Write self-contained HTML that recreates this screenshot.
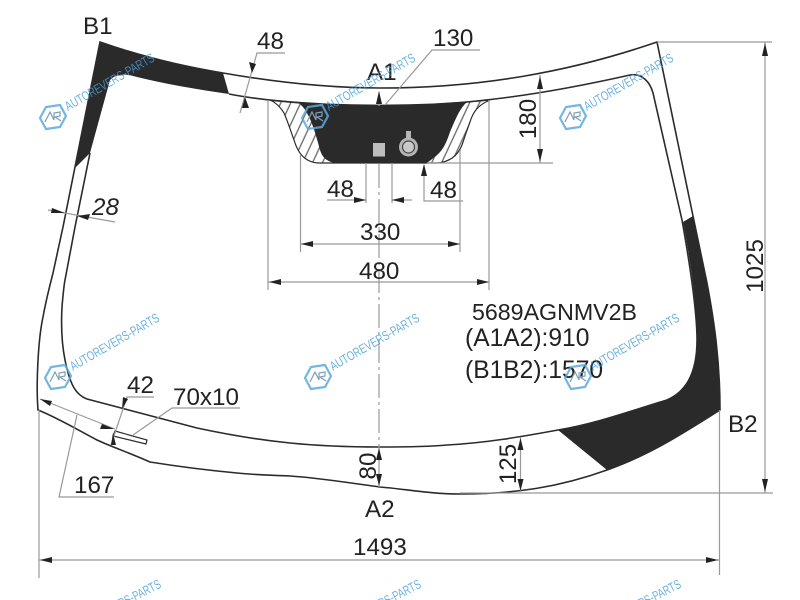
<!DOCTYPE html>
<html><head><meta charset="utf-8"><style>
html,body{margin:0;padding:0;background:#fff;width:800px;height:600px;overflow:hidden}
svg{display:block}
text{font-family:"Liberation Sans",sans-serif;fill:#222}
.t{font-size:24.200px}
.d{stroke:#999;stroke-width:1.2;fill:none}
.g{stroke:#2b2b2b;stroke-width:1.6;fill:none}
.w{font-size:13px;fill:#4a9fd8;opacity:.8}
</style></head><body>
<svg width="800" height="600" viewBox="0 0 800 600" xmlns="http://www.w3.org/2000/svg" style="overflow:hidden;filter:blur(.3px)">
<defs>
<pattern id="h" width="9" height="9" patternUnits="userSpaceOnUse" patternTransform="rotate(25)">
<rect width="9" height="9" fill="#fff"/><line x1="1" y1="0" x2="1" y2="9" stroke="#666" stroke-width="1.300"/>
</pattern>
<g id="logo">
<polygon points="-13,1 -7,-10 7,-12 13,-1 7,10 -7,12" fill="none" stroke="#5aa9dc" stroke-width="2.200" opacity=".85"/>
<path d="M-8,5 L-3,-5 L1,3 M1,3 L1,-4 L7,-5 L7,-1 L2,0 L8,4" fill="none" stroke="#7f9fb5" stroke-width="1.200"/>
</g>
</defs>

<!-- black zones -->
<path d="M100,42 C140,56 180,66 223,73 L229,94 C195,89 165,84 137,77 Q118,71 110,80 L90,153 L75,168 Z" fill="#2a2a2a"/>
<path d="M683,222 L693,216 L707,283 C714,320 720,360 720,410 C685,432 650,455 607,470 L558,430 C595,424 630,411 667,400 C685,392 697,375 697,340 C697,310 692,270 683,222 Z" fill="#2a2a2a"/>

<!-- hatch + centre black -->
<path d="M270,100 C277,103 281,108 284,113 C288,122 291,132 294,140 C297,150 303,163 320,163 L427,163 L437,163 C450,162 458,155 462,145 C465,136 467,130 470,122 C473,112 478,105 490,100 C420,107 340,107 270,100 Z" fill="url(#h)" stroke="#2b2b2b" stroke-width="1.200"/>
<path d="M297,102 C340,107 420,107 467,102 C460,108 456,118 450,132 C446,144 443,150 436,156 L427,163 L335,163 C325,161 322,156 320,150 C316,135 312,122 308,115 C305,109 302,105 297,102 Z" fill="#2a2a2a"/>
<rect x="373" y="143" width="12" height="13.500" fill="#bdbdbd"/>
<circle cx="408.500" cy="147" r="9.500" fill="#b5b5b5"/>
<rect x="406" y="131" width="5" height="8" fill="#b5b5b5"/>
<circle cx="408.500" cy="147" r="6" fill="#c9c9c9" stroke="#444" stroke-width="1.200"/>

<!-- outlines -->
<path class="g" d="M100,42 C140,56 180,66 223,73 C280,83 330,88 380,88 C480,88 570,72 657,42 L693,216 L707,283 C714,320 720,360 720,410 C685,432 650,455 607,470 C560,487 515,494 460,494 C430,494 405,489 380,487 C350,483 320,478 290,476 C270,475 255,475 237,473 C205,470 175,466 150,462 C130,453 112,447 97,440 C78,430 58,418 38,410 C36,385 38,340 43,317 C46,300 50,285 53,273 L63,227 L100,42 Z"/>
<path class="g" d="M229,94 C270,102 330,106 380,106 C470,106 550,93 630,75 C642,73 650,82 653,93 L682,220 C690,265 697,310 697,340 C697,375 685,392 667,400 C630,411 595,424 558,430 C520,437 485,443 447,445 C425,447 400,447 380,447 C340,447 310,445 290,443 C260,440 225,434 197,428 L87,399 C76,395 70,385 65,360 C62,345 61,325 62,307 C63,295 64,285 65,280 L75,227 L90,153"/>
<polygon points="115,431 147,440 146,444 113,436" fill="#fff" stroke="#2b2b2b" stroke-width="1.200"/>

<!-- extension / dimension lines -->
<line class="d" x1="379" y1="164" x2="379" y2="447" stroke-dasharray="24,4,3,4"/>
<line class="d" x1="379" y1="92" x2="379" y2="106"/>
<path class="d" d="M240,113 L257,53 L285,53"/>
<path class="d" d="M48,210 L115,222"/>
<path class="d" d="M385,105 L432,50 L480,50"/>
<path class="d" d="M427,163 L553,163 M540,75 L540,163"/>
<path class="d" d="M366,163 L366,203 M392,163 L392,203 M327,200 L366,200 M392,200 L412,200"/>
<path class="d" d="M424,165 L424,201 L463,201"/>
<path class="d" d="M300.500,155 L300.500,252 M460,150 L460,252 M300.500,244 L460,244"/>
<path class="d" d="M268,100 L268,290 M489,100 L489,290 M268,282 L489,282"/>
<path class="d" d="M657,42 L772,42 M765,42 L765,493 M460,493 L773,493"/>
<path class="d" d="M719.500,410 L719.500,575 M39,410 L39,578 M39,560 L719,560"/>
<path class="d" d="M379,447 L379,487 M520.500,437 L520.500,492"/>
<path class="d" d="M111,445 L127,397 L154,397"/>
<path class="d" d="M133,435 L172,408 L240,408"/>
<path class="d" d="M40,399 L115,429"/>
<path class="d" d="M77,415 L59,497 L114,497"/>

<!-- arrowheads -->
<g fill="#222">
<polygon points="252,73 249,62 256,64"/>
<polygon points="245,97 242,108 249,108"/>
<polygon points="65,213 52,208 51,213"/>
<polygon points="77,216 90,214 88,220"/>
<polygon points="379,91 376,104 382,104"/>
<polygon points="540,76 537,89 543,89"/>
<polygon points="540,162 537,149 543,149"/>
<polygon points="366,200 354,197 354,203"/>
<polygon points="392,200 404,197 404,203"/>
<polygon points="424,164 421,176 427,176"/>
<polygon points="301,244 313,241 313,247"/>
<polygon points="460,244 448,241 448,247"/>
<polygon points="269,282 281,279 281,285"/>
<polygon points="489,282 477,279 477,285"/>
<polygon points="765,43 762,56 768,56"/>
<polygon points="765,492 762,479 768,479"/>
<polygon points="40,560 52,557 52,563"/>
<polygon points="718,560 706,557 706,563"/>
<polygon points="379,448 376,460 382,460"/>
<polygon points="379,486 376,474 382,474"/>
<polygon points="520.500,438 517.500,450 523.500,450"/>
<polygon points="520.500,491 517.500,479 523.500,479"/>
<polygon points="122,409 123,397 128,399"/>
<polygon points="113,433 111,445 116,445"/>
<polygon points="40,399 52,401 50,406"/>
<polygon points="114,429 102,424 100,429"/>
</g>

<!-- labels -->
<text class="t" x="83" y="34">B1</text>
<text class="t" x="257" y="49">48</text>
<text class="t" x="433" y="46">130</text>
<text class="t" x="367" y="80">A1</text>
<text class="t" font-style="italic" x="92" y="215">28</text>
<text class="t" transform="translate(536,119) rotate(-90)" text-anchor="middle">180</text>
<text class="t" x="327" y="197">48</text>
<text class="t" x="430" y="198">48</text>
<text class="t" x="360" y="240">330</text>
<text class="t" x="359" y="279">480</text>
<text class="t" transform="translate(763,266) rotate(-90)" text-anchor="middle">1025</text>
<text x="472" y="320" font-size="23.200px">5689AGNMV2B</text>
<text x="465" y="346" font-size="24.600px">(A1A2):910</text>
<text x="465" y="378" font-size="24.600px">(B1B2):1570</text>
<text class="t" x="127" y="393">42</text>
<text class="t" x="173" y="405">70x10</text>
<text class="t" x="74" y="493">167</text>
<text class="t" x="728" y="432">B2</text>
<text class="t" x="365" y="517">A2</text>
<text class="t" x="353" y="555">1493</text>
<text class="t" transform="translate(376,466) rotate(-90)" text-anchor="middle">80</text>
<text class="t" transform="translate(516,464) rotate(-90)" text-anchor="middle">125</text>

<!-- watermarks -->
<use href="#logo" x="53" y="117"/>
<text class="w" transform="translate(68,111) rotate(-30)" textLength="101" lengthAdjust="spacingAndGlyphs">AUTOREVERS-PARTS</text>
<use href="#logo" x="315" y="117"/>
<text class="w" transform="translate(329,111) rotate(-30)" textLength="101" lengthAdjust="spacingAndGlyphs">AUTOREVERS-PARTS</text>
<use href="#logo" x="573" y="117"/>
<text class="w" transform="translate(587,111) rotate(-30)" textLength="101" lengthAdjust="spacingAndGlyphs">AUTOREVERS-PARTS</text>
<use href="#logo" x="58" y="377"/>
<text class="w" transform="translate(73,371) rotate(-30)" textLength="101" lengthAdjust="spacingAndGlyphs">AUTOREVERS-PARTS</text>
<use href="#logo" x="318" y="377"/>
<text class="w" transform="translate(333,371) rotate(-30)" textLength="101" lengthAdjust="spacingAndGlyphs">AUTOREVERS-PARTS</text>
<use href="#logo" x="578" y="377"/>
<text class="w" transform="translate(593,371) rotate(-30)" textLength="101" lengthAdjust="spacingAndGlyphs">AUTOREVERS-PARTS</text>
<svg x="0" y="560" width="800" height="40" style="overflow:hidden">
<text class="w" transform="translate(121,48) rotate(-27)" textLength="46" lengthAdjust="spacingAndGlyphs">RS-PARTS</text>
<text class="w" transform="translate(381,48) rotate(-27)" textLength="46" lengthAdjust="spacingAndGlyphs">RS-PARTS</text>
<text class="w" transform="translate(641,48) rotate(-27)" textLength="46" lengthAdjust="spacingAndGlyphs">RS-PARTS</text>
</svg>
</svg>
</body></html>
